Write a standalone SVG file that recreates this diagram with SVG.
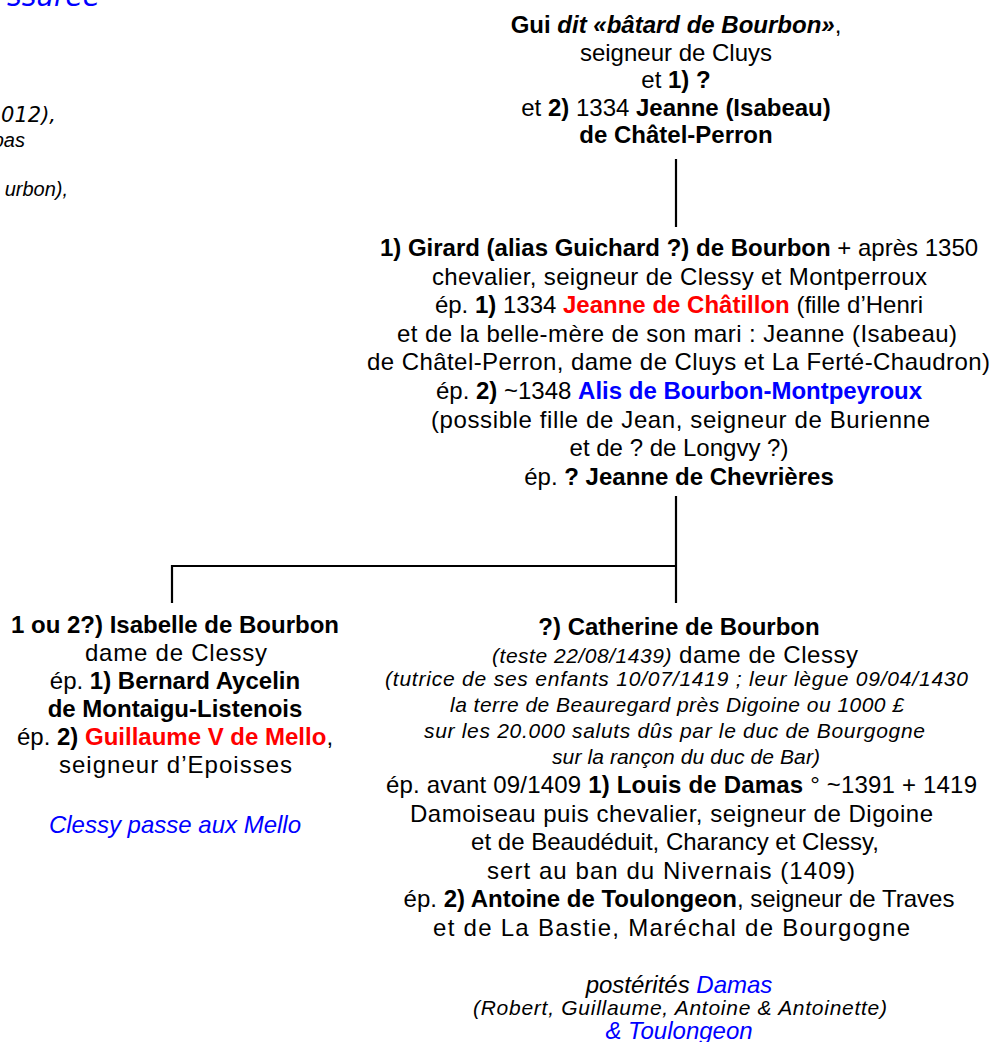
<svg xmlns="http://www.w3.org/2000/svg" width="993" height="1042" viewBox="0 0 993 1042">
<style>
text{font-family:"Liberation Sans",Arial,sans-serif;font-size:24px;fill:#000;text-anchor:middle}
.L{text-anchor:start}
.b{font-weight:bold}
.i{font-style:italic}
.s{font-size:21px}
.red{fill:#ff0000}
.blue{fill:#0000ff}
.frag{text-anchor:end;font-style:italic}
.conn{fill:none;stroke:#000;stroke-width:2.2}
</style>
<rect width="993" height="1042" fill="#fff"/>
<g id="fragments">
<text class="frag blue" x="100" y="6" style="font-family:'DejaVu Sans',sans-serif;font-size:28px">ssurée</text>
<text class="frag" x="56" y="122" style="font-family:'DejaVu Sans',sans-serif;font-size:21px">012),</text>
<text class="frag" x="25" y="147" style="font-size:20px">pas</text>
<text class="frag" x="68" y="196" style="font-size:20px">urbon),</text>
</g>
<g id="connectors">
<path class="conn" d="M676 159V227"/>
<path class="conn" d="M676 496V603"/>
<path class="conn" d="M172 603V566H677"/>
</g>
<g id="gui">
<text x="676" y="33"><tspan class="b">Gui </tspan><tspan class="b i">dit «bâtard de Bourbon»</tspan>,</text>
<text x="676" y="60.5">seigneur de Cluys</text>
<text x="676" y="88">et <tspan class="b">1) ?</tspan></text>
<text x="676" y="115.5">et <tspan class="b">2)</tspan> 1334 <tspan class="b">Jeanne (Isabeau)</tspan></text>
<text x="676" y="143" class="b">de Châtel-Perron</text>
</g>
<g id="girard">
<text x="679" y="256"><tspan class="b">1) Girard (alias Guichard ?) de Bourbon</tspan> + après 1350</text>
<text class="L" x="432" y="284.6" textLength="495">chevalier, seigneur de Clessy et Montperroux</text>
<text x="679" y="313.2">ép. <tspan class="b">1)</tspan> 1334 <tspan class="b red">Jeanne de Châtillon</tspan> (fille d’Henri</text>
<text class="L" x="397" y="341.8" textLength="560">et de la belle-mère de son mari : Jeanne (Isabeau)</text>
<text class="L" x="367" y="370.4" textLength="623">de Châtel-Perron, dame de Cluys et La Ferté-Chaudron)</text>
<text x="679" y="399">ép. <tspan class="b">2)</tspan> ~1348 <tspan class="b blue">Alis de Bourbon-Montpeyroux</tspan></text>
<text class="L" x="431" y="427.6" textLength="499">(possible fille de Jean, seigneur de Burienne</text>
<text x="679" y="456.2">et de ? de Longvy ?)</text>
<text x="679" y="484.8">ép. <tspan class="b">? Jeanne de Chevrières</tspan></text>
</g>
<g id="isabelle">
<text x="175" y="633" class="b">1 ou 2?) Isabelle de Bourbon</text>
<text class="L" x="85" y="661" textLength="182">dame de Clessy</text>
<text x="175" y="689">ép. <tspan class="b">1) Bernard Aycelin</tspan></text>
<text x="175" y="717" class="b">de Montaigu-Listenois</text>
<text x="175" y="745">ép. <tspan class="b">2)</tspan> <tspan class="b red">Guillaume V de Mello</tspan>,</text>
<text class="L" x="59" y="773" textLength="233">seigneur d’Epoisses</text>
<text x="175" y="833" class="i blue">Clessy passe aux Mello</text>
</g>
<g id="catherine">
<text x="679" y="635" class="b">?) Catherine de Bourbon</text>
<text class="L" x="492" y="663" textLength="366"><tspan class="i s">(teste 22/08/1439)</tspan> dame de Clessy</text>
<text class="L i s" x="385" y="686" textLength="583">(tutrice de ses enfants 10/07/1419 ; leur lègue 09/04/1430</text>
<text class="L i s" x="450" y="712" textLength="454">la terre de Beauregard près Digoine ou 1000 £</text>
<text class="L i s" x="424" y="738" textLength="501">sur les 20.000 saluts dûs par le duc de Bourgogne</text>
<text class="L i s" x="552" y="764" textLength="268">sur la rançon du duc de Bar)</text>
<text class="L" x="386" y="793" textLength="591">ép. avant 09/1409 <tspan class="b">1) Louis de Damas</tspan> ° ~1391 + 1419</text>
<text class="L" x="410" y="821.6" textLength="523">Damoiseau puis chevalier, seigneur de Digoine</text>
<text x="675" y="850.2">et de Beaudéduit, Charancy et Clessy,</text>
<text class="L" x="487" y="878.8" textLength="368">sert au ban du Nivernais (1409)</text>
<text x="679" y="907.4">ép. <tspan class="b">2) Antoine de Toulongeon</tspan>, seigneur de Traves</text>
<text class="L" x="433" y="936" textLength="477">et de La Bastie, Maréchal de Bourgogne</text>
<text x="679" y="993" class="i">postérités <tspan class="blue">Damas</tspan></text>
<text class="L i s" x="473" y="1015" textLength="414">(Robert, Guillaume, Antoine &amp; Antoinette)</text>
<text x="679" y="1039" class="i blue">&amp; Toulongeon</text>
</g>
</svg>
